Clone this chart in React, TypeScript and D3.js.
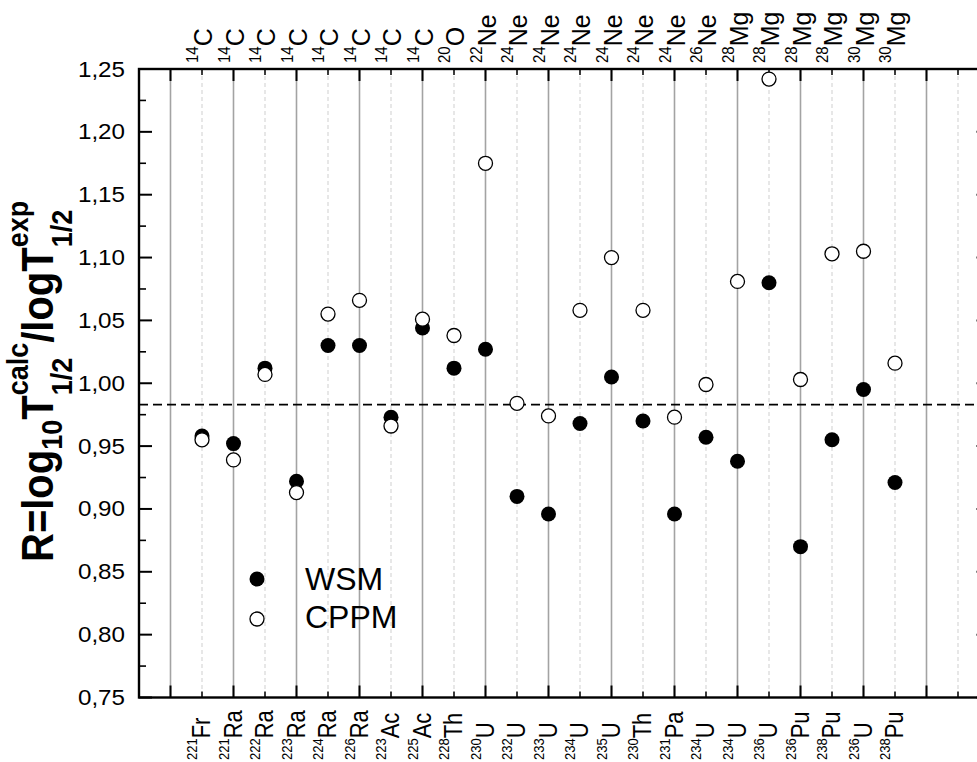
import React from "react";
import * as d3 from "d3";

// Decay channels: parent nucleus (bottom axis) and emitted cluster (top axis)
const parentMass = ["221", "221", "222", "223", "224", "226", "223", "225", "228", "230", "232", "233", "234", "235", "230", "231", "234", "234", "236", "236", "238", "236", "238"];
const parentSym = ["Fr", "Ra", "Ra", "Ra", "Ra", "Ra", "Ac", "Ac", "Th", "U", "U", "U", "U", "U", "Th", "Pa", "U", "U", "U", "Pu", "Pu", "U", "Pu"];
const clusterMass = ["14", "14", "14", "14", "14", "14", "14", "14", "20", "22", "24", "24", "24", "24", "24", "24", "26", "28", "28", "28", "28", "30", "30"];
const clusterSym = ["C", "C", "C", "C", "C", "C", "C", "C", "O", "Ne", "Ne", "Ne", "Ne", "Ne", "Ne", "Ne", "Ne", "Mg", "Mg", "Mg", "Mg", "Mg", "Mg"];

// Ratio R for each model
const wsm = [0.958, 0.952, 1.012, 0.922, 1.030, 1.030, 0.973, 1.044, 1.012, 1.027, 0.910, 0.896, 0.968, 1.005, 0.970, 0.896, 0.957, 0.938, 1.080, 0.870, 0.955, 0.995, 0.921];
const cppm = [0.955, 0.939, 1.007, 0.913, 1.055, 1.066, 0.966, 1.051, 1.038, 1.175, 0.984, 0.974, 1.058, 1.100, 1.058, 0.973, 0.999, 1.081, 1.242, 1.003, 1.103, 1.105, 1.016];

const meanLine = 0.983;
const yTicks = [0.75, 0.8, 0.85, 0.9, 0.95, 1.0, 1.05, 1.1, 1.15, 1.2, 1.25];

const W = 977;
const H = 762;
const FONT = "'Liberation Sans', Arial, Helvetica, sans-serif";

export default function App() {
  const x = d3.scaleLinear().domain([0, 27]).range([139, 989.5]);
  const y = d3.scaleLinear().domain([0.75, 1.25]).range([697.5, 69]);
  const x0 = x(0), x1 = x(27), yTop = y(1.25), yBot = y(0.75);
  const units = d3.range(1, 27);
  const minorY = d3.range(0, 10).map((i) => 0.775 + i * 0.05);
  const fmt = (v: number) => d3.format(".2f")(v).replace(".", ",");
  const px = (i: number) => x(i + 2);

  // Bold title pieces, script font sizes
  const M = 40, S = 27;

  return (
    <svg width={W} height={H} style={{ position: "absolute", left: 0, top: 0, background: "#fff" }} fontFamily={FONT}>
      <rect x={0} y={0} width={W} height={H} fill="#fff" />
      {/* vertical grid: solid at odd units, dashed at even units */}
      {units.map((u) => (
        <line key={"g" + u} x1={x(u)} x2={x(u)} y1={yTop} y2={yBot}
          stroke={u % 2 === 1 ? "#a3a3a3" : "#cfcfcf"}
          strokeWidth={u % 2 === 1 ? 1.6 : 1}
          strokeDasharray={u % 2 === 1 ? undefined : "4,3"} />
      ))}

      {/* reference line */}
      <line x1={x0} x2={x1} y1={y(meanLine)} y2={y(meanLine)} stroke="#000" strokeWidth={1.6} strokeDasharray="9,5" />

      {/* frame */}
      <rect x={x0} y={yTop} width={x1 - x0} height={yBot - yTop} fill="none" stroke="#000" strokeWidth={2.4} />

      {/* x ticks, top and bottom, pointing inward */}
      {units.map((u) => {
        const len = u % 2 === 1 ? 12 : 6;
        return (
          <g key={"xt" + u} stroke="#000" strokeWidth={u % 2 === 1 ? 2 : 1.5}>
            <line x1={x(u)} x2={x(u)} y1={yBot} y2={yBot - len} />
            <line x1={x(u)} x2={x(u)} y1={yTop} y2={yTop + len} />
          </g>
        );
      })}

      {/* y ticks, left and right, pointing inward */}
      {yTicks.map((v) => (
        <g key={"yt" + v} stroke="#000" strokeWidth={2}>
          <line x1={x0} x2={x0 + 13} y1={y(v)} y2={y(v)} />
          <line x1={x1} x2={x1 - 13} y1={y(v)} y2={y(v)} />
        </g>
      ))}
      {minorY.map((v) => (
        <g key={"ym" + v} stroke="#000" strokeWidth={1.6}>
          <line x1={x0} x2={x0 + 7} y1={y(v)} y2={y(v)} />
          <line x1={x1} x2={x1 - 7} y1={y(v)} y2={y(v)} />
        </g>
      ))}

      {/* y tick labels */}
      {yTicks.map((v) => (
        <text key={"yl" + v} transform={`translate(125,${y(v) + 7.5}) scale(1.1,1)`} textAnchor="end" fontSize={22} fill="#000">
          {fmt(v)}
        </text>
      ))}

      {/* y axis title */}
      <g transform="translate(53,562) scale(1.1,1) rotate(-90)">
        <text fontSize={M} fontWeight="bold" fill="#000">
          R=log
          <tspan fontSize={S} dy={8}>10</tspan>
          <tspan fontSize={M} dy={-8}>T</tspan>
          <tspan fontSize={S} dy={-23}>calc</tspan>
          <tspan fontSize={S} dx={-1.946 * S} dy={40}>1/2</tspan>
          <tspan fontSize={M} dx={(1.946 - 1.39) * S} dy={-17}>/logT</tspan>
          <tspan fontSize={S} dy={-23}>exp</tspan>
          <tspan fontSize={S} dx={-1.723 * S} dy={40}>1/2</tspan>
        </text>
      </g>

      {/* WSM markers */}
      {wsm.map((v, i) => (
        <circle key={"w" + i} cx={px(i)} cy={y(v)} r={7.5} fill="#000" />
      ))}
      {/* CPPM markers */}
      {cppm.map((v, i) => (
        <circle key={"c" + i} cx={px(i)} cy={y(v)} r={7} fill="#fff" stroke="#000" strokeWidth={1.3} />
      ))}

      {/* bottom labels: parent nuclei */}
      {parentSym.map((s, i) => (
        <g key={"bl" + i} transform={`translate(${px(i) + 8},760) scale(1.15,1) rotate(-90)`}>
          <text fontSize={22} fill="#000">
            <tspan fontSize={13} dy={-11}>{parentMass[i]}</tspan>
            <tspan dy={11}>{s}</tspan>
          </text>
        </g>
      ))}

      {/* top labels: emitted clusters */}
      {clusterSym.map((s, i) => (
        <g key={"tl" + i} transform={`translate(${px(i) + 10},63) scale(1.05,1) rotate(-90)`}>
          <text fontSize={25} fill="#000">
            <tspan fontSize={15} dy={-13}>{clusterMass[i]}</tspan>
            <tspan dy={13}>{s}</tspan>
          </text>
        </g>
      ))}

      {/* legend */}
      <circle cx={257} cy={579} r={7.5} fill="#000" />
      <text x={305} y={590} fontSize={32} fill="#000">WSM</text>
      <circle cx={257} cy={619} r={7} fill="#fff" stroke="#000" strokeWidth={1.3} />
      <text x={305} y={628} fontSize={32} fill="#000">CPPM</text>
    </svg>
  );
}
